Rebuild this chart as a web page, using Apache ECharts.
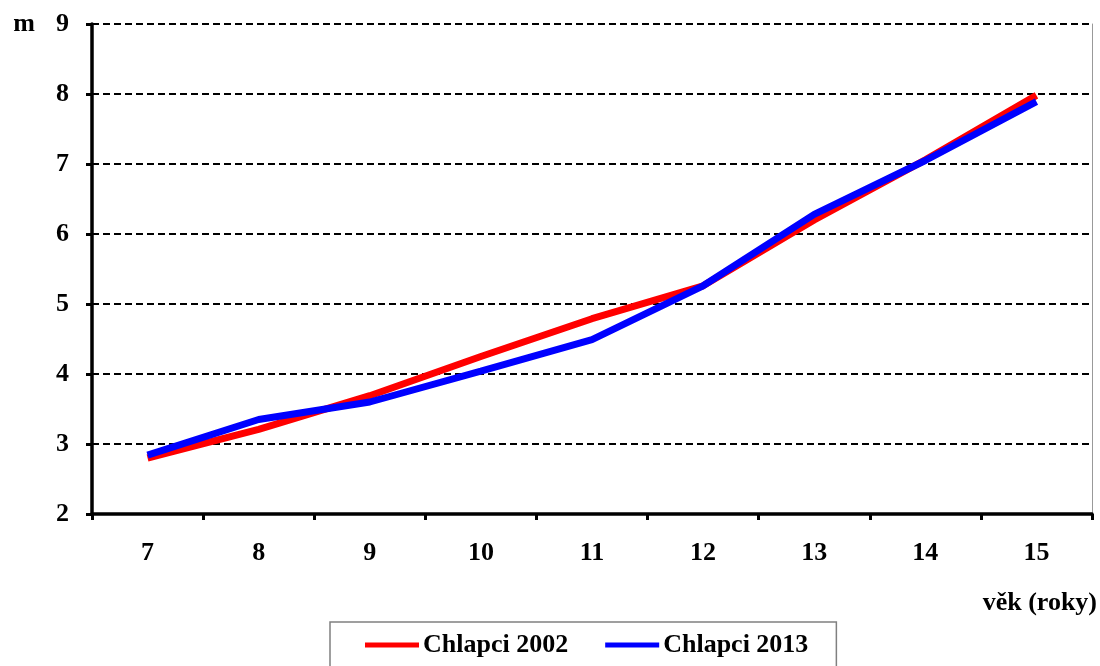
<!DOCTYPE html>
<html>
<head>
<meta charset="utf-8">
<script src="https://cdn.jsdelivr.net/npm/echarts@6/dist/echarts.min.js"></script>
<style>
  html, body { margin: 0; padding: 0; background: #fff; }
  #chart { width: 1100px; height: 666px; }
</style>
</head>
<body>
<div id="chart"></div>
<script>
// Age categories (years) and distance values (m)
const ages = ['7', '8', '9', '10', '11', '12', '13', '14', '15'];
const boys2002 = [2.80, 3.21, 3.69, 4.25, 4.79, 5.26, 6.20, 7.06, 7.98];
const boys2013 = [2.84, 3.35, 3.60, 4.04, 4.49, 5.26, 6.28, 7.05, 7.89];
const seriesNames = ['Chlapci 2002', 'Chlapci 2013'];

const font = '"Liberation Serif", "Times New Roman", serif';
const labelStyle = { fontFamily: font, fontWeight: 'bold', fontSize: 26, color: '#000' };

const chart = echarts.init(document.getElementById('chart'), null, { renderer: 'canvas' });
chart.setOption({
  animation: false,
  backgroundColor: '#fff',
  grid: { left: 92, right: 7, top: 24, bottom: 152, containLabel: false },
  legend: {
    data: seriesNames,
    left: 330,
    top: 622,
    padding: [10, 28, 30, 35],
    borderColor: '#808080',
    borderWidth: 1.5,
    icon: 'rect',
    itemWidth: 54,
    itemHeight: 5,
    itemGap: 37,
    textStyle: Object.assign({}, labelStyle, { padding: [0, 0, 0, -1] })
  },
  xAxis: {
    type: 'category',
    data: ages,
    boundaryGap: true,
    name: 'věk (roky)',
    nameLocation: 'end',
    nameGap: 5,
    nameTextStyle: Object.assign({}, labelStyle, { align: 'right', verticalAlign: 'top', padding: [76, 0, 0, 0] }),
    axisLine: { lineStyle: { color: '#000', width: 3.5 } },
    axisTick: { show: true, alignWithLabel: false, length: 6, lineStyle: { color: '#000', width: 3 } },
    axisLabel: Object.assign({}, labelStyle, { margin: 26 }),
    splitLine: { show: false }
  },
  yAxis: [{
    type: 'value',
    min: 2,
    max: 9,
    interval: 1,
    name: 'm',
    nameLocation: 'end',
    nameGap: 0,
    nameTextStyle: Object.assign({}, labelStyle, { align: 'right', verticalAlign: 'middle', padding: [0, 57, 0, 0] }),
    axisLine: { show: true, lineStyle: { color: '#000', width: 3.5 } },
    axisTick: { show: true, length: 6, lineStyle: { color: '#000', width: 3 } },
    axisLabel: Object.assign({}, labelStyle, { margin: 23 }),
    splitLine: { show: true, lineStyle: { color: '#000', width: 2, type: [7, 4] } }
  }, {
    type: 'value',
    min: 2,
    max: 9,
    interval: 1,
    position: 'right',
    axisLine: { show: true, lineStyle: { color: '#999', width: 1 } },
    axisTick: { show: false },
    axisLabel: { show: false },
    splitLine: { show: false }
  }],
  series: [
    {
      name: seriesNames[0],
      type: 'line',
      data: boys2002,
      symbol: 'none',
      color: '#ff0000',
      lineStyle: { color: '#ff0000', width: 7 },
      z: 2
    },
    {
      name: seriesNames[1],
      type: 'line',
      data: boys2013,
      symbol: 'none',
      color: '#0000ff',
      lineStyle: { color: '#0000ff', width: 7 },
      z: 3
    }
  ]
});
</script>
</body>
</html>
